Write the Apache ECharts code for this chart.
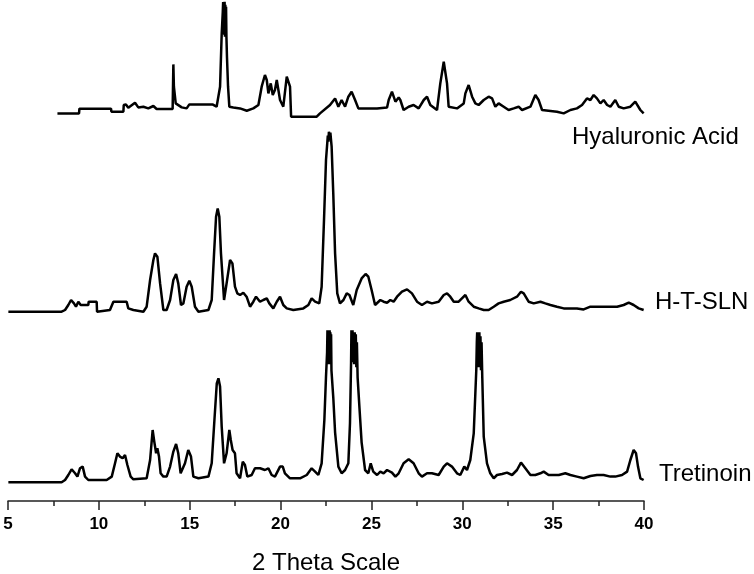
<!DOCTYPE html>
<html>
<head>
<meta charset="utf-8">
<script src="https://cdn.jsdelivr.net/npm/echarts@6/dist/echarts.min.js"></script>
<style>
html,body{margin:0;padding:0;background:#fff;}
#chart{width:754px;height:574px;}
</style>
</head>
<body>
<div id="chart"></div>
<script>
// Trace names (right-hand labels)
const traceNames = ["Hyaluronic Acid", "H-T-SLN", "Tretinoin"];
// Vertical offsets of each stacked trace (arbitrary intensity units)
const traceOffsets = [384.3, 189.3, 18.7];
// X axis ticks
const xTicks = [5, 10, 15, 20, 25, 30, 35, 40];
const xTitle = "2 Theta Scale";

// [2θ, intensity] for each trace
const hyaluronicAcid = [
[7.72,3.3],[8.91,3.3],[8.93,8],[10.67,8],[10.69,5],[11.35,5],[11.37,11.7],[11.49,12.3],[11.62,9],[11.99,14],[12.17,9.3],[12.45,10],[12.72,8.3],[13.0,10.7],[13.18,7.7],
[14.06,7.7],[14.10,52.3],[14.13,30],[14.23,13.3],[14.56,9.3],[14.83,8.3],[14.98,12.3],[16.25,12.3],[16.48,10],[16.67,30],[16.76,83],[16.82,105],
[16.84,114.7],[16.86,85],[16.88,114],[16.90,82],[16.92,115],[16.94,80],[16.96,112],[16.98,82],[17.00,110],[17.02,80],[17.05,60],[17.11,30],[17.18,10],
[17.40,9.3],[17.77,8.3],[18.14,6],[18.50,8.3],[18.78,11.7],[18.96,30],[19.14,41.7],[19.24,36.7],[19.33,23.3],[19.46,33.3],[19.57,21.7],[19.69,26.7],[19.79,36.7],
[19.88,35],[19.97,16.7],[20.15,10],[20.34,40],[20.43,41.7],[20.52,30],[20.58,0],[21.99,0],[22.17,3.3],[22.72,11.7],[23.0,18.3],[23.18,10],[23.36,16.7],[23.55,10],
[23.73,20],[23.91,25],[24.10,16.7],[24.28,8.3],[25.31,8.3],[25.86,9.3],[25.95,16.7],[26.13,25],[26.32,15],[26.50,19.3],[26.59,16.7],[26.77,6.7],[27.05,10],
[27.32,11.7],[27.60,8.3],[27.88,16.7],[28.06,20],[28.24,11.7],[28.61,6.7],[28.79,33.3],[28.98,55],[29.16,33.3],[29.25,10],[29.71,8.3],[30.08,13.3],[30.17,23.3],
[30.35,31.7],[30.54,20],[30.72,13.3],[30.90,11.7],[31.18,16.7],[31.45,20],[31.64,18.3],[31.82,10],[32.0,13.3],[32.28,10],[32.55,6.7],[32.83,8.3],[33.10,10],
[33.29,6.7],[33.75,10],[34.02,21.7],[34.20,16.7],[34.39,6.7],[35.21,5],[35.58,3.3],[35.95,6.7],[36.31,8.3],[36.59,11.7],[36.86,18.3],[37.05,16.7],[37.23,21.7],
[37.41,18.3],[37.60,13.3],[37.78,16.7],[37.97,11.7],[38.15,10],[38.42,16.7],[38.61,10],[38.88,8.3],[39.25,10],[39.52,15],[39.62,16.7],[39.80,6.7],[39.98,3.3]
];

const htSLN = [
[5.02,0],[7.95,0],[8.14,1.7],[8.32,6.7],[8.47,11.7],[8.63,8.3],[8.74,5],[8.87,10],[9.0,6.7],[9.42,6.7],[9.44,10],[9.88,10],[9.90,0],[10.61,1.7],[10.80,10],
[11.53,10],[11.62,3.3],[11.90,1.7],[12.45,0],[12.63,5],[12.82,31.7],[13.0,51.7],[13.09,58.3],[13.22,55],[13.37,28.3],[13.55,1.7],[13.73,1.7],[13.92,11.7],
[14.10,31.7],[14.25,37.7],[14.37,28.3],[14.52,6.7],[14.65,8.3],[14.83,25],[14.98,31],[15.11,25],[15.29,5],[15.48,0],[16.03,1.7],[16.21,11.7],[16.34,58.3],
[16.45,95],[16.54,103.3],[16.63,95],[16.72,58.3],[16.89,11.7],[17.03,28.3],[17.22,51.7],[17.35,48.3],[17.49,25],[17.62,18.3],[17.77,16.7],[17.95,19],[18.13,15],
[18.32,5],[18.50,10],[18.65,15],[18.87,10],[19.05,11.7],[19.24,13.3],[19.38,8.3],[19.60,3.3],[19.79,10],[19.97,15],[20.15,6.7],[20.34,3.3],[20.70,1.7],
[21.25,3.3],[21.53,6.7],[21.71,13.3],[21.90,10],[22.13,8.3],[22.26,25],[22.39,91.7],[22.50,151.7],[22.60,176],[22.63,170],[22.66,180],[22.70,172],[22.74,179],
[22.81,165],[22.90,118.3],[23.0,58.3],[23.12,18.3],[23.27,8.3],[23.46,11.7],[23.64,18.3],[23.79,16.7],[24.0,6.7],[24.19,21.7],[24.46,33.3],[24.68,37.7],
[24.83,35],[25.01,21.7],[25.20,6.7],[25.31,6.7],[25.49,11.7],[25.67,10],[25.86,9],[26.04,11.7],[26.22,10],[26.41,15],[26.68,20],[26.96,22.3],[27.23,18.3],
[27.51,10],[27.78,6.7],[28.06,10],[28.33,8.3],[28.70,10],[28.98,16.7],[29.16,18.3],[29.34,15],[29.53,10],[29.80,10],[29.98,13.3],[30.17,16.7],[30.35,10],
[30.63,5],[30.90,3.3],[31.18,1.7],[31.45,1.7],[31.73,5],[32.0,8.3],[32.28,10],[32.64,11.7],[33.01,15],[33.23,20],[33.38,18.3],[33.65,10],[33.93,8.3],[34.30,10],
[34.57,8.3],[34.85,6.7],[35.21,5],[35.58,3.3],[36.31,3.3],[36.68,2.3],[37.05,5],[37.78,5],[38.52,5],[38.88,6.7],[39.16,9],[39.43,6.7],[39.71,3.3],[39.98,1.7]
];

const tretinoin = [
[5.02,0],[7.95,0],[8.14,2.3],[8.32,7.3],[8.50,13],[8.69,9],[8.82,5.7],[8.96,14],[9.11,15.7],[9.24,5.7],[9.42,2.3],[10.43,2.3],[10.71,5.7],[10.89,19],[11.02,29],
[11.16,25.7],[11.31,24],[11.44,27.3],[11.57,17.3],[11.75,5.7],[11.90,3],[12.63,4],[12.82,22.3],[12.96,52.3],[13.05,40.7],[13.15,29],[13.22,34],[13.31,25.7],
[13.40,9],[13.55,5.7],[13.73,5.7],[13.92,15.7],[14.10,30.7],[14.25,38.3],[14.37,29],[14.50,9],[14.61,7.3],[14.74,19],[14.92,32.3],[15.07,25.7],[15.20,5.7],
[15.48,4],[16.03,5.7],[16.21,19],[16.36,62.3],[16.49,99],[16.58,104],[16.67,95.7],[16.76,55.7],[16.89,19],[17.03,29],[17.18,52.3],[17.26,42.3],[17.36,32.3],
[17.49,29],[17.58,9],[17.77,4],[17.92,20.7],[18.04,17.3],[18.17,5.7],[18.41,7.3],[18.59,14],[18.87,14],[19.14,12.3],[19.33,14],[19.51,7.3],[19.69,5.7],
[19.97,15.7],[20.12,15.7],[20.24,9],[20.52,4],[21.07,4],[21.44,7.3],[21.71,14],[21.90,10.7],[22.08,7.3],[22.26,19],[22.41,62.3],[22.50,105.7],[22.56,130],
[22.58,152],[22.60,118],[22.62,152],[22.64,122],[22.66,151],[22.68,118],[22.70,152],[22.72,122],[22.74,150],[22.76,118],[22.78,148],[22.80,112],[22.90,85],
[23.0,50],[23.18,15.7],[23.36,9],[23.55,12.3],[23.73,19],[23.82,59],[23.88,120],[23.90,152],[23.93,125],[23.96,152],[23.99,120],[24.02,150],[24.05,118],
[24.08,150],[24.11,120],[24.14,148],[24.17,115],[24.20,140],[24.24,105],[24.34,75],[24.46,40],[24.65,12.3],[24.83,9],[24.96,19],[25.10,10.7],[25.31,7.3],
[25.49,10.7],[25.67,9],[25.86,12.3],[26.13,9.7],[26.32,5.7],[26.50,9],[26.77,19],[27.05,23],[27.32,19],[27.60,9],[27.78,5.7],[28.06,9],[28.33,9],[28.70,7.3],
[28.98,15.7],[29.16,19],[29.43,15.7],[29.71,9],[29.89,7.3],[30.11,15.7],[30.26,12.3],[30.44,22.3],[30.63,49],[30.77,112],[30.80,140],[30.82,150],[30.85,115],
[30.88,150],[30.91,118],[30.94,150],[30.97,115],[31.00,146],[31.03,112],[31.06,140],[31.10,105],[31.18,45.7],[31.36,19],[31.54,9],[31.73,4],[31.91,7.3],
[32.19,8.3],[32.46,9.7],[32.74,7.3],[33.01,12.3],[33.23,19.7],[33.47,14],[33.75,7.3],[34.02,7.3],[34.30,9],[34.48,10.7],[34.75,7.3],[35.03,7.3],[35.31,7.3],
[35.67,9],[35.95,7.3],[36.31,5.7],[36.68,4],[37.05,6.3],[37.41,7.3],[37.78,7.3],[38.15,5.7],[38.42,5.7],[38.79,7.3],[39.07,10.7],[39.25,22.3],[39.43,32.3],
[39.56,29],[39.67,15.7],[39.80,4],[39.98,2.3]
];

const traces = [hyaluronicAcid, htSLN, tretinoin];
const FONT = 'Arial, "Liberation Sans", sans-serif';

const chart = echarts.init(document.getElementById('chart'), null, {renderer: 'canvas'});

const series = traces.map((tr, i) => ({
  name: traceNames[i],
  type: 'line',
  data: tr.map(p => [p[0], p[1] + traceOffsets[i]]),
  showSymbol: false,
  symbol: 'none',
  lineStyle: {color: '#000', width: 2.5},
  silent: true
}));

const labelPos = [
  {left: 572, top: 125},
  {left: 655, top: 290},
  {left: 659, top: 462}
];

chart.setOption({
  animation: false,
  backgroundColor: '#fff',
  grid: {left: 8, right: 110, top: 0, bottom: 73, containLabel: false, outerBoundsMode: 'none'},
  xAxis: {
    type: 'value',
    min: xTicks[0],
    max: xTicks[xTicks.length - 1],
    interval: 5,
    name: xTitle,
    nameLocation: 'middle',
    nameGap: 50,
    nameTextStyle: {fontFamily: FONT, fontSize: 24, color: '#000'},
    axisLine: {show: true, onZero: false, lineStyle: {color: '#222', width: 1.5}},
    axisTick: {show: true, inside: false, length: 9, lineStyle: {color: '#222', width: 1.5}},
    minorTick: {show: true, splitNumber: 2, length: 5, lineStyle: {color: '#222', width: 1.5}},
    splitLine: {show: false},
    axisLabel: {fontFamily: FONT, fontSize: 17, fontWeight: 'bold', color: '#000', margin: 15}
  },
  yAxis: {
    type: 'value', min: 0, max: 501, show: false
  },
  series: series,
  graphic: traceNames.map((t, i) => ({
    type: 'text',
    left: labelPos[i].left,
    top: labelPos[i].top,
    style: {text: t, font: '24px ' + FONT, fill: '#000'}
  }))
});
</script>
</body>
</html>
